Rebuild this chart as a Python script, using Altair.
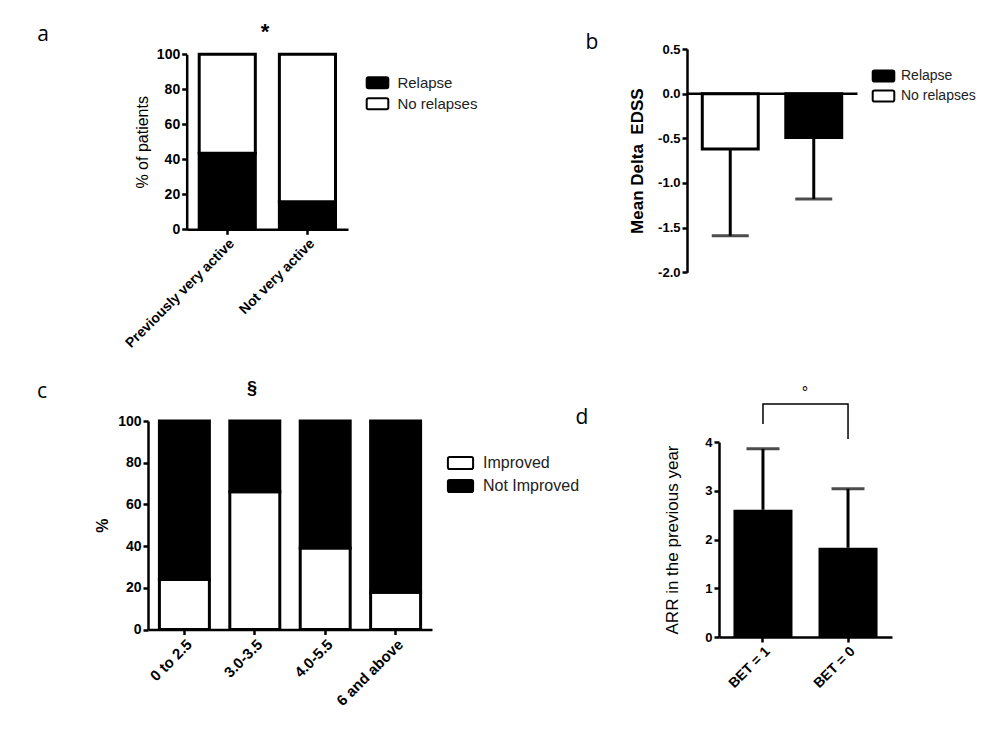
import altair as alt
import pandas as pd

# ---------------- data ----------------
a_groups = ["Previously very active", "Not very active"]
a_status = ["Relapse", "No relapses"]
a_relapse = [43.4, 15.8]

b_groups = ["No relapses", "Relapse"]
b_mean = [-0.62, -0.49]
b_sd = [0.97, 0.69]

c_groups = ["0 to 2.5", "3.0-3.5", "4.0-5.5", "6 and above"]
c_status = ["Improved", "Not Improved"]
c_improved = [24.0, 66.1, 39.1, 17.9]

d_groups = ["BET = 1", "BET = 0"]
d_mean = [2.61, 1.83]
d_sd = [1.25, 1.21]
d_bracket_x = ["BET = 1", "BET = 1", "BET = 0", "BET = 0"]
d_bracket_y = [4.37, 4.78, 4.78, 4.06]

# ---------------- layout helpers ----------------
PAD = 5
W, H = 988 - 2 * PAD, 737 - 2 * PAD
OFF = 8 + PAD
FONT = "Arial, Liberation Sans, sans-serif"


def px(v):
    return v - OFF


def ax(**kw):
    base = dict(domainColor="black", domainWidth=2.5, tickColor="black", tickWidth=2.5,
                tickSize=5, labelColor="black", labelFont=FONT, labelFontWeight="bold",
                titleFont=FONT, titleColor="black", grid=False, labelPadding=2,
                titleAngle=-90, titleBaseline="middle", titleAlign="center")
    base.update(kw)
    return alt.Axis(**base)


def box_path(hw, hh, r):
    return (f"M {-hw + r} {-hh} L {hw - r} {-hh} A {r} {r} 0 0 1 {hw} {-hh + r} "
            f"L {hw} {hh - r} A {r} {r} 0 0 1 {hw - r} {hh} L {-hw + r} {hh} "
            f"A {r} {r} 0 0 1 {-hw} {hh - r} L {-hw} {-hh + r} A {r} {r} 0 0 1 {-hw + r} {-hh} Z")


def legend(x, y, size, offset, rowpad, path):
    return alt.Legend(orient="none", legendX=x, legendY=y, title=None, padding=0,
                      symbolType=path, symbolSize=144, symbolStrokeColor="black",
                      symbolStrokeWidth=2, labelFont=FONT, labelFontSize=size,
                      labelColor="#222222", labelOffset=offset, rowPadding=rowpad)


# ---------------- panel a ----------------
rows = []
for g, r in zip(a_groups, a_relapse):
    rows.append(dict(group=g, status=a_status[0], y0=0, y1=r))
    rows.append(dict(group=g, status=a_status[1], y0=r, y1=100))
a_df = pd.DataFrame(rows)

a_x = alt.X("group:N", sort=a_groups,
            scale=alt.Scale(domain=a_groups, range=[px(186.7), px(348)],
                            paddingInner=0.3, paddingOuter=0.156),
            axis=ax(orient="bottom", offset=px(229.3) - H, labelAngle=-45,
                    labelFontSize=14, title=None))
a_y = alt.Y("y1:Q", scale=alt.Scale(domain=[0, 100], range=[px(229.3), px(54.3)], nice=False),
            axis=ax(orient="left", offset=-px(186.7), values=[0, 20, 40, 60, 80, 100],
                    labelFontSize=14, title="% of patients", titleFontSize=16,
                    titleFontWeight="normal", titleX=-44))
panel_a = alt.Chart(a_df).mark_bar(stroke="black", strokeWidth=3).encode(
    x=a_x, y=a_y, y2="y0:Q",
    fill=alt.Fill("status:N", scale=alt.Scale(domain=a_status, range=["black", "white"]),
                  legend=legend(px(370), px(75.3), 15, 12.4, 0, box_path(1.8, 0.92, 0.3))))

# ---------------- panel b ----------------
b_df = pd.DataFrame(dict(group=b_groups, status=b_groups, mean=b_mean, sd=b_sd))
b_df["low"] = b_df["mean"] - b_df["sd"]

b_x = alt.X("group:N", sort=b_groups,
            scale=alt.Scale(domain=b_groups, range=[px(687), px(857)],
                            paddingInner=0.33, paddingOuter=0.183),
            axis=ax(orient="bottom", offset=px(93.3) - H, labels=False, ticks=False, title=None))
b_yaxis = ax(orient="left", offset=-px(687), values=[-2, -1.5, -1, -0.5, 0, 0.5], format=".1f",
             labelExpr="replace(datum.label, '\u2212', '-')",
             labelFontSize=13, title="Mean Delta\u00a0\u00a0EDSS", titleFontSize=17,
             titleFontWeight="bold", titleX=-50)
b_scale = alt.Scale(domain=[-2, 0.5], range=[px(272.3), px(49)], nice=False)
b_bars = alt.Chart(b_df).mark_bar(stroke="black", strokeWidth=3).encode(
    x=b_x, y=alt.Y("mean:Q", scale=b_scale, axis=b_yaxis),
    fill=alt.Fill("status:N", scale=alt.Scale(domain=["Relapse", "No relapses"], range=["black", "white"]),
                  legend=legend(px(876.5), px(69), 14, 10.5, 0, box_path(1.8, 0.92, 0.3))))
b_err = alt.Chart(b_df).mark_rule(color="black", strokeWidth=3).encode(
    x=b_x, y=alt.Y("mean:Q", scale=b_scale, axis=b_yaxis), y2="low:Q")
b_cap = alt.Chart(b_df).mark_tick(color="black", thickness=3, size=37).encode(
    x=b_x, y=alt.Y("low:Q", scale=b_scale, axis=b_yaxis))
panel_b = alt.layer(b_bars, b_err, b_cap)

# ---------------- panel c ----------------
rows = []
for g, v in zip(c_groups, c_improved):
    rows.append(dict(group=g, status=c_status[0], y0=0, y1=v))
    rows.append(dict(group=g, status=c_status[1], y0=v, y1=100))
c_df = pd.DataFrame(rows)

c_x = alt.X("group:N", sort=c_groups,
            scale=alt.Scale(domain=c_groups, range=[px(148), px(432)],
                            paddingInner=0.29, paddingOuter=0.162),
            axis=ax(orient="bottom", offset=px(629.5) - H, labelAngle=-45,
                    labelFontSize=15, title=None))
c_y = alt.Y("y1:Q", scale=alt.Scale(domain=[0, 100], range=[px(629.5), px(421)], nice=False),
            axis=ax(orient="left", offset=-px(148), values=[0, 20, 40, 60, 80, 100],
                    labelFontSize=14, title="%", titleFontSize=16,
                    titleFontWeight="bold", titleX=-46))
panel_c = alt.Chart(c_df).mark_bar(stroke="black", strokeWidth=3).encode(
    x=c_x, y=c_y, y2="y0:Q",
    fill=alt.Fill("status:N", scale=alt.Scale(domain=c_status, range=["white", "black"]),
                  legend=legend(px(452.5), px(455), 16, 14.5, 3, box_path(2.1, 1.0, 0.3))))

# ---------------- panel d ----------------
d_df = pd.DataFrame(dict(group=d_groups, mean=d_mean, sd=d_sd))
d_df["high"] = d_df["mean"] + d_df["sd"]
br_df = pd.DataFrame(dict(group=d_bracket_x, y=d_bracket_y, k=list(range(len(d_bracket_x)))))

d_x = alt.X("group:N", sort=d_groups,
            scale=alt.Scale(domain=d_groups, range=[px(719), px(892)],
                            paddingInner=0.306, paddingOuter=0.17),
            axis=ax(orient="bottom", offset=px(637) - H, labelAngle=-45,
                    labelFontSize=14, title=None))
d_scale = alt.Scale(domain=[0, 4], range=[px(637), px(442)], nice=False)
d_yaxis = ax(orient="left", offset=-px(719), values=[0, 1, 2, 3, 4], labelFontSize=13,
             title="ARR in the previous year", titleFontSize=17, titleFontWeight="normal",
             titleX=-47)
d_bars = alt.Chart(d_df).mark_bar(color="black").encode(
    x=d_x, y=alt.Y("mean:Q", scale=d_scale, axis=d_yaxis))
d_err = alt.Chart(d_df).mark_rule(color="black", strokeWidth=3).encode(
    x=d_x, y=alt.Y("mean:Q", scale=d_scale, axis=d_yaxis), y2="high:Q")
d_cap = alt.Chart(d_df).mark_tick(color="black", thickness=3, size=33).encode(
    x=d_x, y=alt.Y("high:Q", scale=d_scale, axis=d_yaxis))
d_br = alt.Chart(br_df).mark_line(color="black", strokeWidth=1.5).encode(
    x=d_x, y=alt.Y("y:Q", scale=d_scale, axis=d_yaxis), order="k:Q")
panel_d = alt.layer(d_bars, d_err, d_cap, d_br)

# ---------------- annotations ----------------
one = pd.DataFrame({"k": [0]})


def note(text, x, y, size, weight="normal", font=FONT):
    return alt.Chart(one).mark_text(text=text, fontSize=size, fontWeight=weight, font=font,
                                    align="center", baseline="middle", color="black").encode(
        x=alt.value(px(x)), y=alt.value(px(y)))


notes = [
    note("a", 43, 35, 21, font="Open Sans"),
    note("b", 592, 43, 21, font="Open Sans"),
    note("c", 42, 392, 21, font="Open Sans"),
    note("d", 582, 418, 21, font="Open Sans"),
    note("*", 265, 32, 22, weight="bold"),
    note("§", 252, 389, 18, weight="bold"),
    note("°", 805, 393, 16),
]

chart = alt.layer(panel_a, panel_b, panel_c, panel_d, *notes).resolve_scale(
    x="independent", y="independent", fill="independent"
).resolve_axis(x="independent", y="independent").resolve_legend(fill="independent").properties(
    width=W, height=H, padding=PAD, autosize=alt.AutoSizeParams(type="none")
).configure_view(stroke=None, fill=None)

chart.save("out.html", embed_options={"renderer": "svg", "actions": False})
